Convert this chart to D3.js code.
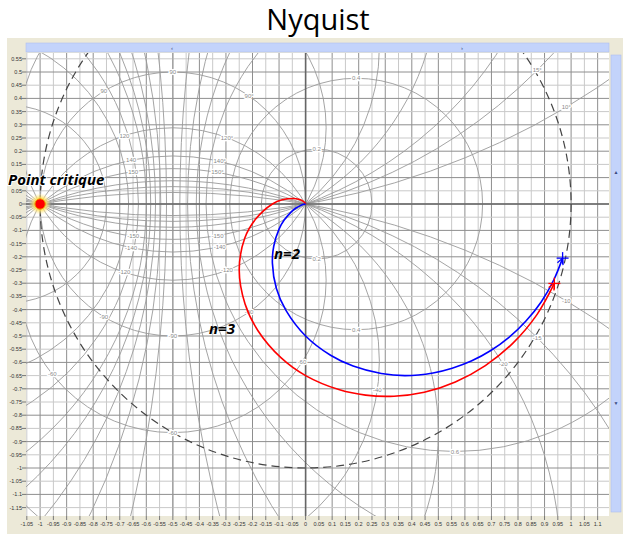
<!DOCTYPE html>
<html><head><meta charset="utf-8">
<script src="https://cdn.jsdelivr.net/npm/d3@7"></script>
<style>body{margin:0;background:#fff;overflow:hidden}</style>
</head><body>
<svg id="c" width="625" height="536"></svg>
<script>
// ---------- data ----------
const xTickLabels = ["-1.05","-1","-0.95","-0.9","-0.85","-0.8","-0.75","-0.7","-0.65","-0.6","-0.55","-0.5","-0.45","-0.4","-0.35","-0.3","-0.25","-0.2","-0.15","-0.1","-0.05","0","0.05","0.1","0.15","0.2","0.25","0.3","0.35","0.4","0.45","0.5","0.55","0.6","0.65","0.7","0.75","0.8","0.85","0.9","0.95","1","1.05","1.1"];
const yTickLabels = ["0.55","0.5","0.45","0.4","0.35","0.3","0.25","0.2","0.15","0.1","0.05","0","-0.05","-0.1","-0.15","-0.2","-0.25","-0.3","-0.35","-0.4","-0.45","-0.5","-0.55","-0.6","-0.65","-0.7","-0.75","-0.8","-0.85","-0.9","-0.95","-1","-1.05","-1.1","-1.15"];
// closed-loop magnitude (M) circles, linear
const mValues = [0.2,0.4,0.6,0.7,0.8,0.9,1,1.1,1.2,1.3,1.4,1.5,1.7,2,3];
// closed-loop phase (N) circles, degrees
const nPhases = [10,15,20,30,40,60,90,-10,-15,-20,-30,-40,-60];
// labels
const mLabelTop = [0.2,0.4];
const mLabelBottom = [0.2,0.4,0.6];
const nLabelLeft = [90,120,140,150,-90,-120,-140,-150,-60];
const nLabelMid = [90,-90,-60];
const nLabelRight = [90,120,140,150,10,15,-90,-120,-140,-150,-60,-40,-20,-15,-10];
const n2Re = [0.968,0.935,0.888,0.830,0.766,0.696,0.624,0.552,0.480,0.375,0.285,0.179,0.094,0.000,-0.074,-0.110,-0.125,-0.120,-0.100,-0.080,-0.052,-0.036,-0.019,-0.010,0];
const n2Im = [-0.205,-0.287,-0.370,-0.443,-0.505,-0.556,-0.595,-0.622,-0.640,-0.650,-0.642,-0.614,-0.573,-0.500,-0.403,-0.320,-0.225,-0.160,-0.095,-0.060,-0.028,-0.015,-0.006,-0.002,0];
const n3Re = [0.937,0.872,0.782,0.677,0.564,0.447,0.333,0.226,0.128,0.000,-0.093,-0.180,-0.228,-0.250,-0.229,-0.188,-0.125,-0.088,-0.047,-0.026,-0.010,-0.002,0];
const n3Im = [-0.301,-0.418,-0.526,-0.612,-0.674,-0.713,-0.728,-0.724,-0.704,-0.650,-0.582,-0.479,-0.379,-0.250,-0.129,-0.057,0.000,0.016,0.021,0.018,0.011,0.004,0];

// ---------- layout ----------
const L = 26, R = 609, T = 53, B = 516;
const x0 = 305.6, kx = 265.5, y0 = 204, ky = 264;
const x = d3.scaleLinear().domain([(L - x0) / kx, (R - x0) / kx]).range([L, R]);
const y = d3.scaleLinear().domain([(y0 - B) / ky, (y0 - T) / ky]).range([B, T]);

const svg = d3.select("#c");
svg.append("rect").attr("width", 625).attr("height", 536).attr("fill", "#fff");
// beige window frame
svg.append("rect").attr("x", 7).attr("y", 38).attr("width", 616).attr("height", 496).attr("fill", "#ECE9D8");
svg.append("rect").attr("x", L).attr("y", T).attr("width", R - L).attr("height", B - T).attr("fill", "#fff");

const defs = svg.append("defs");
defs.append("clipPath").attr("id", "clip").append("rect").attr("x", L).attr("y", T).attr("width", R - L).attr("height", B - T);
const rg = defs.append("radialGradient").attr("id", "glow");
rg.append("stop").attr("offset", "0%").attr("stop-color", "#ffee00").attr("stop-opacity", 1);
rg.append("stop").attr("offset", "60%").attr("stop-color", "#ffe066").attr("stop-opacity", 0.8);
rg.append("stop").attr("offset", "100%").attr("stop-color", "#fff2b0").attr("stop-opacity", 0);

const g = svg.append("g").attr("clip-path", "url(#clip)");

// grid
const isMajor = v => Math.abs(Math.round(v * 20)) % 2 === 0;
g.selectAll(".vx").data(d3.range(-1.05, 1.151, 0.05).map(v => +v.toFixed(2))).join("line")
  .attr("x1", d => x(d)).attr("x2", d => x(d)).attr("y1", T).attr("y2", B)
  .attr("stroke", d => isMajor(d) ? "#8e8e8e" : "#c9c9c9").attr("stroke-width", 1);
g.selectAll(".hy").data(d3.range(-1.2, 0.601, 0.05).map(v => +v.toFixed(2))).join("line")
  .attr("y1", d => y(d)).attr("y2", d => y(d)).attr("x1", L).attr("x2", R)
  .attr("stroke", d => isMajor(d) ? "#8e8e8e" : "#c9c9c9").attr("stroke-width", 1);

// M circles
const cg = "#9a9a9a";
mValues.forEach(m => {
  if (m === 1) {
    g.append("line").attr("x1", x(-0.5)).attr("x2", x(-0.5)).attr("y1", T).attr("y2", B)
      .attr("stroke", cg).attr("stroke-width", 0.9);
  } else {
    const c = -m * m / (m * m - 1), r = Math.abs(m / (m * m - 1));
    g.append("ellipse").attr("cx", x(c)).attr("cy", y(0)).attr("rx", x(c + r) - x(c)).attr("ry", y(0) - y(r))
      .attr("fill", "none").attr("stroke", cg).attr("stroke-width", 0.9);
  }
});
// N circles
nPhases.forEach(p => {
  const ph = p * Math.PI / 180;
  const cy = 1 / (2 * Math.tan(ph)), r = 1 / (2 * Math.abs(Math.sin(ph)));
  g.append("ellipse").attr("cx", x(-0.5)).attr("cy", y(cy)).attr("rx", x(r) - x(0)).attr("ry", y(0) - y(r))
    .attr("fill", "none").attr("stroke", cg).attr("stroke-width", 0.9);
});

// axes through origin
g.append("line").attr("x1", x(0)).attr("x2", x(0)).attr("y1", T).attr("y2", B).attr("stroke", "#666").attr("stroke-width", 1.6);
g.append("line").attr("y1", y(0)).attr("y2", y(0)).attr("x1", L).attr("x2", R).attr("stroke", "#666").attr("stroke-width", 1.6);

// dashed unit circle
g.append("ellipse").attr("cx", x(0)).attr("cy", y(0)).attr("rx", x(1) - x(0)).attr("ry", y(0) - y(1))
  .attr("fill", "none").attr("stroke", "#444").attr("stroke-width", 1.2).attr("stroke-dasharray", "8,5");

// contour labels
function lab(px, py, t) {
  g.append("text").attr("x", px).attr("y", py + 2).attr("text-anchor", "middle")
    .attr("font-family", "Liberation Sans, Arial, sans-serif").attr("font-size", 6)
    .attr("fill", "#8a8a8a").attr("stroke", "#fff").attr("stroke-width", 2.5).attr("paint-order", "stroke").text(t);
}
mLabelTop.forEach(m => { const c = m * m / (1 - m * m), r = m / (1 - m * m); lab(x(c), y(r), String(m)); });
mLabelBottom.forEach(m => { const c = m * m / (1 - m * m), r = m / (1 - m * m); lab(x(c), y(-r), String(m)); });
function gFromT(M, deg) {
  const ph = deg * Math.PI / 180, tr = M * Math.cos(ph), ti = M * Math.sin(ph);
  const dr = 1 - tr, di = -ti, den = dr * dr + di * di;
  return [(tr * dr + ti * di) / den, (ti * dr - tr * di) / den];
}
nLabelLeft.forEach(p => { const q = gFromT(1.78, p); lab(x(q[0]), y(q[1]), String(p)); });
nLabelMid.forEach(p => { const q = gFromT(1, p); lab(x(q[0]), y(q[1]), String(p)); });
nLabelRight.forEach(p => { const q = gFromT(0.52, p); lab(x(q[0]), y(q[1]), p > 0 ? p + "°" : String(p)); });

// Nyquist loci
const line = d3.line().x(d => x(d[0])).y(d => y(d[1])).curve(d3.curveCatmullRom);
const s2 = n2Re.map((v, i) => [v, n2Im[i]]);
const s3 = n3Re.map((v, i) => [v, n3Im[i]]);
g.append("path").attr("d", line(s3)).attr("fill", "none").attr("stroke", "#ff0000").attr("stroke-width", 1.6);
g.append("path").attr("d", line(s2)).attr("fill", "none").attr("stroke", "#0000ff").attr("stroke-width", 1.6);

// start markers (+ with arrow)
function marker(pt, nxt, col) {
  const px = x(pt[0]), py = y(pt[1]);
  const mk = g.append("g").attr("stroke", col).attr("stroke-width", 1.3);
  mk.append("line").attr("x1", px - 6).attr("x2", px + 6).attr("y1", py).attr("y2", py);
  mk.append("line").attr("x1", px).attr("x2", px).attr("y1", py - 6).attr("y2", py + 6);
  const a = Math.atan2(y(nxt[1]) - py, x(nxt[0]) - px);
  [0.45, -0.45].forEach(da => {
    mk.append("line").attr("x1", px).attr("y1", py)
      .attr("x2", px + 7 * Math.cos(a + da)).attr("y2", py + 7 * Math.sin(a + da));
  });
}
marker(s3[0], s3[1], "#ff0000");
marker(s2[0], s2[1], "#0000ff");

// critical point
svg.append("circle").attr("cx", x(-1)).attr("cy", y(0)).attr("r", 11).attr("fill", "url(#glow)");
svg.append("circle").attr("cx", x(-1)).attr("cy", y(0)).attr("r", 5.2).attr("fill", "#ff0000").attr("stroke", "#f0a000").attr("stroke-width", 1);

// tick labels
const tf = "Liberation Sans, Arial, sans-serif";
svg.append("g").selectAll("text").data(xTickLabels).join("text")
  .attr("x", d => x(+d)).attr("y", 526).attr("text-anchor", "middle")
  .attr("font-family", tf).attr("font-size", 5.5).attr("fill", "#333").text(d => d);
svg.append("g").selectAll("line").data(xTickLabels).join("line")
  .attr("x1", d => x(+d)).attr("x2", d => x(+d)).attr("y1", B).attr("y2", B + 4).attr("stroke", "#777");
svg.append("g").selectAll("text").data(yTickLabels).join("text")
  .attr("x", 22).attr("y", d => y(+d) + 2).attr("text-anchor", "end")
  .attr("font-family", tf).attr("font-size", 5.5).attr("fill", "#333").text(d => d);
svg.append("g").selectAll("line").data(yTickLabels).join("line")
  .attr("x1", 22).attr("x2", L).attr("y1", d => y(+d)).attr("y2", d => y(+d)).attr("stroke", "#777");

// scrollbars
svg.append("rect").attr("x", L).attr("y", 43).attr("width", R - L).attr("height", 9)
  .attr("fill", "#c3d3fb").attr("stroke", "#aebfee").attr("stroke-width", 0.6);
svg.append("text").attr("x", 172).attr("y", 50).attr("font-size", 6).attr("font-family", tf).attr("fill", "#3a4a80").attr("text-anchor", "middle").text("‹");
svg.append("text").attr("x", 462).attr("y", 50).attr("font-size", 6).attr("font-family", tf).attr("fill", "#3a4a80").attr("text-anchor", "middle").text("›");
svg.append("rect").attr("x", 611).attr("y", 55).attr("width", 10).attr("height", 457)
  .attr("fill", "#c3d3fb").attr("stroke", "#aebfee").attr("stroke-width", 0.6);
svg.append("text").attr("x", 616).attr("y", 174).attr("font-size", 5).attr("font-family", tf).attr("fill", "#3a4a80").attr("text-anchor", "middle").text("▲");
svg.append("text").attr("x", 616).attr("y", 405).attr("font-size", 5).attr("font-family", tf).attr("fill", "#3a4a80").attr("text-anchor", "middle").text("▼");

// annotations
const af = "'Comic Sans MS', 'Open Sans', Lato, sans-serif";
svg.append("text").attr("x", 318).attr("y", 30).attr("text-anchor", "middle").attr("font-family", af)
  .attr("font-size", 29).attr("fill", "#000").text("Nyquist");
svg.append("text").attr("x", 8).attr("y", 185).attr("font-family", af).attr("font-weight", "bold").attr("font-style", "italic")
  .attr("font-size", 15).attr("fill", "#000").attr("stroke", "#fff").attr("stroke-width", 2).attr("paint-order", "stroke").text("Point critique");
svg.append("text").attr("x", 274).attr("y", 259).attr("font-family", af).attr("font-weight", "bold").attr("font-style", "italic")
  .attr("font-size", 15).attr("fill", "#000").text("n=2");
svg.append("text").attr("x", 209).attr("y", 334).attr("font-family", af).attr("font-weight", "bold").attr("font-style", "italic")
  .attr("font-size", 15).attr("fill", "#000").text("n=3");
</script>
</body></html>
